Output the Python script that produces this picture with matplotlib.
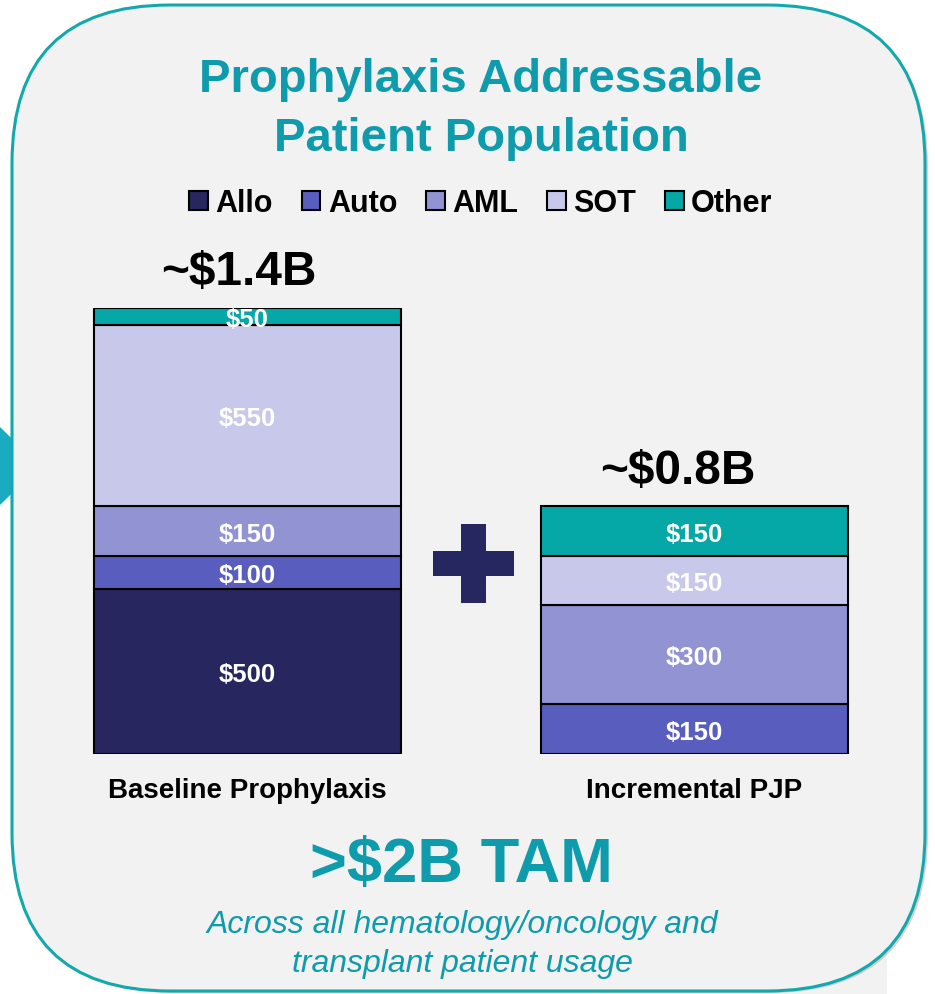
# -*- coding: utf-8 -*-
# Prophylaxis Addressable Patient Population -- stacked bars (values in $M)

import matplotlib
matplotlib.use('Agg')
import matplotlib.pyplot as plt
from matplotlib.patches import FancyBboxPatch, Rectangle, Polygon
import numpy as np

# %% Data
categories = ['Baseline Prophylaxis', 'Incremental PJP']
segments = ['Allo', 'Auto', 'AML', 'SOT', 'Other']
allo = [500, 0]
auto = [100, 150]
aml = [150, 300]
sot = [550, 150]
other = [50, 150]
total_labels = ['~$1.4B', '~$0.8B']

colors = ['#27265E', '#585DBE', '#9193D3', '#C8C8EA', '#05A8A6']
teal = '#0E9BAB'
plt.rcParams['font.family'] = ['Liberation Sans', 'DejaVu Sans']

# %% Figure: 935 x 995 px
W, H = 935, 995
fig = plt.figure(figsize=(W / 100, H / 100), dpi=100)
fig.patch.set_facecolor('white')

# background layer in pixel units (y down)
bg = fig.add_axes([0, 0, 1, 1], zorder=0)
bg.set_xlim(0, W)
bg.set_ylim(H, 0)
bg.axis('off')

# strip of slide background at bottom right
bg.add_patch(Rectangle((600, 900), 287, 95, color='#F2F2F2', lw=0, zorder=0))
# teal arrow peeking out at the left edge
bg.add_patch(Polygon([(0, 428), (40, 467), (0, 506)], closed=True,
                     color='#1AABC0', lw=0, zorder=1))
# shadow + rounded panel
bg.add_patch(FancyBboxPatch((15, 9), 913, 985, boxstyle='round,pad=0,rounding_size=158',
                            fc='#A8A8A8', ec='none', alpha=0.5, zorder=2))
bg.add_patch(FancyBboxPatch((12, 6), 913, 986, boxstyle='round,pad=0,rounding_size=158',
                            fc='#F2F2F2', ec='#13A8AC', lw=2.2, zorder=3))

# plus sign between the bars
bg.add_patch(Rectangle((461, 525), 25, 79, color='#262660', lw=0, zorder=4))
bg.add_patch(Rectangle((433, 552), 81, 25, color='#262660', lw=0, zorder=4))

# %% Titles and footer text
bg.text(481, 92, 'Prophylaxis Addressable', ha='center', va='baseline',
        fontsize=34, fontweight='bold', color=teal, zorder=5)
bg.text(481, 151, 'Patient Population', ha='center', va='baseline',
        fontsize=34, fontweight='bold', color=teal, zorder=5)
bg.text(461, 882, '>$2B TAM', ha='center', va='baseline',
        fontsize=45.5, fontweight='bold', color=teal, zorder=5)
bg.text(462, 933, 'Across all hematology/oncology and', ha='center', va='baseline',
        fontsize=23, fontstyle='italic', color=teal, zorder=5)
bg.text(462, 972, 'transplant patient usage', ha='center', va='baseline',
        fontsize=23, fontstyle='italic', color=teal, zorder=5)

# %% Stacked bars
ax = fig.add_axes([24 / W, 240 / H, 894 / W, 446 / H], zorder=1)
ax.set_facecolor('none')
ax.axis('off')
ax.set_xlim(-0.5, 1.5)
ax.set_ylim(0, 1350)

x = np.arange(len(categories))
data = [allo, auto, aml, sot, other]
bottom = np.zeros(len(categories))
handles = []
for name, vals, col in zip(segments, data, colors):
    vals = np.array(vals, dtype=float)
    bars = ax.bar(x, vals, width=0.687, bottom=bottom, color=col,
                  edgecolor='black', linewidth=1.5, label=name)
    handles.append(bars)
    for xi, v, b in zip(x, vals, bottom):
        if v > 0:
            ax.text(xi, b + v / 2, f'${v:.0f}', ha='center', va='center_baseline',
                    fontsize=18.5, fontweight='bold', color='white')
    bottom = bottom + vals

# totals sit a little left of the bar centre in the original slide
total_dx = [-6, -12]
for xi, tot, lab in zip(x, bottom, total_labels):
    ax.annotate(lab, (xi, tot), xytext=(total_dx[xi], 17), textcoords='offset points',
                ha='center', va='baseline', fontsize=34.5, fontweight='bold',
                color='black')
    ax.annotate(categories[xi], (xi, 0), xytext=(0, -31), textcoords='offset points',
                ha='center', va='baseline', fontsize=20, fontweight='bold',
                color='black')

# %% Legend
leg = fig.legend(handles=handles, labels=segments, loc='center',
                 bbox_to_anchor=(481 / W, 1 - 204 / H), ncol=5, frameon=False,
                 prop={'size': 22, 'weight': 'bold'},
                 handlelength=0.6, handleheight=0.6, handletextpad=0.25,
                 columnspacing=0.95, borderpad=0)

fig.savefig('out.png', dpi=100)
